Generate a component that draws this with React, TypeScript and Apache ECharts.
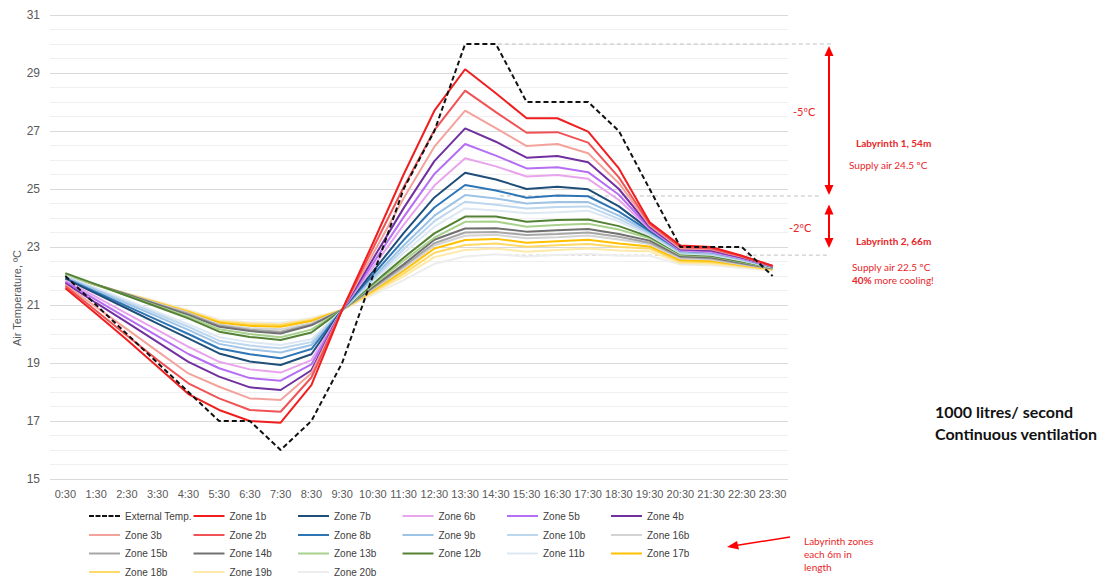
import React, { useEffect, useRef } from "react";
import * as echarts from "echarts";

const categories = ["0:30","1:30","2:30","3:30","4:30","5:30","6:30","7:30","8:30","9:30","10:30","11:30","12:30","13:30","14:30","15:30","16:30","17:30","18:30","19:30","20:30","21:30","22:30","23:30"];
const yTicks = [15, 31, 2];

const external = [22,21,20,19,18,17,17,16,17,19,22,25,27,30,30,28,28,28,27,25,23,23,23,22];
const zone1b = [21.58,20.7,19.8,18.87,17.93,17.38,17.0,16.94,18.24,20.83,23.13,25.5,27.7,29.13,28.3,27.44,27.44,26.98,25.71,23.85,23.05,23.0,22.7,22.35];
const zone2b = [21.65,20.8,19.95,19.1,18.3,17.78,17.38,17.32,18.5,20.83,22.95,25.06,27.03,28.39,27.65,26.94,26.96,26.6,25.4,23.8,23.0,22.95,22.68,22.35];
const zone3b = [21.7,20.93,20.17,19.4,18.64,18.18,17.78,17.72,18.65,20.83,22.75,24.68,26.46,27.7,27.1,26.48,26.55,26.23,25.2,23.75,22.95,22.92,22.66,22.35];
const zone4b = [21.75,21.07,20.4,19.72,19.04,18.53,18.16,18.07,18.75,20.83,22.58,24.34,25.96,27.09,26.63,26.08,26.14,25.92,25.0,23.7,22.92,22.88,22.64,22.35];
const zone5b = [21.8,21.18,20.55,19.93,19.31,18.82,18.48,18.39,18.95,20.83,22.43,24.03,25.52,26.55,26.15,25.71,25.75,25.58,24.8,23.65,22.9,22.85,22.62,22.34];
const zone6b = [21.85,21.28,20.7,20.13,19.56,19.04,18.78,18.67,19.1,20.83,22.3,23.76,25.12,26.06,25.78,25.43,25.48,25.35,24.62,23.62,22.88,22.83,22.6,22.33];
const zone7b = [21.9,21.39,20.88,20.36,19.85,19.33,19.05,18.93,19.3,20.83,22.15,23.48,24.71,25.56,25.33,25.0,25.08,24.99,24.4,23.6,22.9,22.85,22.62,22.32];
const zone8b = [21.92,21.44,20.96,20.48,20.0,19.5,19.3,19.16,19.48,20.83,22.04,23.24,24.36,25.14,24.95,24.7,24.78,24.75,24.22,23.55,22.87,22.82,22.6,22.32];
const zone9b = [21.95,21.5,21.05,20.6,20.14,19.66,19.47,19.36,19.62,20.83,21.94,23.05,24.08,24.79,24.67,24.5,24.55,24.55,24.08,23.5,22.82,22.78,22.57,22.31];
const zone10b = [21.97,21.54,21.11,20.68,20.25,19.77,19.6,19.51,19.72,20.83,21.87,22.92,23.89,24.56,24.46,24.33,24.38,24.4,23.97,23.45,22.8,22.75,22.55,22.3];
const zone11b = [22.0,21.58,21.17,20.75,20.34,19.89,19.72,19.62,19.82,20.83,21.81,22.79,23.7,24.33,24.26,24.16,24.2,24.25,23.88,23.4,22.78,22.73,22.53,22.3];
const zone12b = [22.1,21.71,21.32,20.93,20.54,20.08,19.9,19.79,20.05,20.83,21.73,22.63,23.47,24.05,24.05,23.87,23.93,23.95,23.72,23.35,22.75,22.7,22.5,22.3];
const zone13b = [22.05,21.69,21.33,20.96,20.6,20.16,20.0,19.89,20.15,20.83,21.68,22.53,23.32,23.87,23.88,23.7,23.76,23.8,23.6,23.3,22.72,22.68,22.48,22.28];
const zone14b = [22.05,21.7,21.36,21.01,20.66,20.25,20.1,20.02,20.3,20.83,21.62,22.4,23.25,23.64,23.65,23.53,23.58,23.62,23.45,23.22,22.68,22.64,22.45,22.27];
const zone15b = [22.03,21.7,21.37,21.03,20.7,20.29,20.15,20.08,20.33,20.83,21.58,22.33,23.13,23.5,23.52,23.41,23.45,23.5,23.35,23.15,22.65,22.6,22.42,22.26];
const zone16b = [22.02,21.7,21.38,21.05,20.73,20.33,20.2,20.16,20.37,20.83,21.55,22.26,23.05,23.39,23.42,23.3,23.34,23.4,23.26,23.1,22.6,22.57,22.4,22.25];
const zone17b = [22.0,21.69,21.38,21.07,20.76,20.39,20.28,20.25,20.45,20.83,21.5,22.18,22.95,23.24,23.28,23.15,23.2,23.25,23.12,23.02,22.55,22.52,22.38,22.24];
const zone18b = [22.0,21.7,21.39,21.09,20.78,20.43,20.33,20.31,20.48,20.83,21.46,22.08,22.8,23.07,23.12,23.01,23.06,23.1,23.0,22.95,22.5,22.47,22.35,22.22];
const zone19b = [21.98,21.69,21.39,21.1,20.8,20.46,20.37,20.34,20.52,20.83,21.41,21.99,22.65,22.9,22.95,22.84,22.9,22.95,22.88,22.85,22.45,22.42,22.32,22.2];
const zone20b = [21.97,21.69,21.4,21.12,20.83,20.5,20.4,20.39,20.55,20.83,21.35,21.86,22.42,22.67,22.75,22.67,22.72,22.76,22.7,22.7,22.4,22.37,22.28,22.18];

const zoneSeries: [string, number[], string][] = [
  ["Zone 1b", zone1b, "#f01e1e"],
  ["Zone 2b", zone2b, "#ef5355"],
  ["Zone 3b", zone3b, "#f4a29c"],
  ["Zone 4b", zone4b, "#7030a0"],
  ["Zone 5b", zone5b, "#b66ef2"],
  ["Zone 6b", zone6b, "#e8a4ec"],
  ["Zone 7b", zone7b, "#1f4e79"],
  ["Zone 8b", zone8b, "#2e75b6"],
  ["Zone 9b", zone9b, "#9dc3e6"],
  ["Zone 10b", zone10b, "#bdd7ee"],
  ["Zone 11b", zone11b, "#dde8f3"],
  ["Zone 12b", zone12b, "#548235"],
  ["Zone 13b", zone13b, "#a9d18e"],
  ["Zone 14b", zone14b, "#707070"],
  ["Zone 15b", zone15b, "#a6a6a6"],
  ["Zone 16b", zone16b, "#d3d3d3"],
  ["Zone 17b", zone17b, "#ffc000"],
  ["Zone 18b", zone18b, "#ffd966"],
  ["Zone 19b", zone19b, "#ffe9a8"],
  ["Zone 20b", zone20b, "#ededed"],
];

const legendOrder = [
  "External Temp.", "Zone 1b", "Zone 7b", "Zone 6b", "Zone 5b", "Zone 4b",
  "Zone 3b", "Zone 2b", "Zone 8b", "Zone 9b", "Zone 10b", "Zone 16b",
  "Zone 15b", "Zone 14b", "Zone 13b", "Zone 12b", "Zone 11b", "Zone 17b",
  "Zone 18b", "Zone 19b", "Zone 20b",
];

const RED = "#ff0000";
const TXT_RED = "#e8262a";
const DASH_ICON = "path://M0,0h5v2h-5zM6.5,0h5v2h-5zM13,0h5v2h-5zM19.5,0h5v2h-5zM26,0h5v2h-5z";

export default function App() {
  const ref = useRef<HTMLDivElement>(null);
  useEffect(() => {
    if (!ref.current) return;
    const chart = echarts.init(ref.current, null, { renderer: "svg" });
    const series: any[] = [];
    for (let i = zoneSeries.length - 1; i >= 0; i--) {
      const [name, data, color] = zoneSeries[i];
      series.push({
        name, type: "line", data, symbol: "none", color,
        lineStyle: { width: 2, color }, z: 2 + (zoneSeries.length - i) * 0.01,
      });
    }
    series.push({
      name: "External Temp.", type: "line", data: external, symbol: "none", color: "#111",
      lineStyle: { width: 2, color: "#111", type: [5, 3] }, z: 3,
    });
    const colX = [89, 193.5, 298, 402.5, 507, 611];
    const rowY = [517, 536, 554.5, 573];
    const legends = legendOrder.map((name, i) => ({
      data: [{ name, icon: name === "External Temp." ? DASH_ICON : "rect" }],
      left: colX[i % 6], top: rowY[Math.floor(i / 6)] - 6,
      itemWidth: 31, itemHeight: 2, itemGap: 0, padding: 0, selectedMode: false,
      itemStyle: { borderWidth: 0 },
      textStyle: { fontSize: 10, color: "#404040", fontFamily: "Liberation Sans" },
    }));
    chart.setOption({
      animation: false,
      backgroundColor: "#ffffff",
      textStyle: { fontFamily: "Liberation Sans" },
      grid: { left: 50, right: 324, top: 15, bottom: 101 },
      legend: legends,
      xAxis: {
        type: "category", data: categories, boundaryGap: true,
        axisLine: { show: false }, axisTick: { show: false },
        axisLabel: { color: "#595959", fontSize: 11, margin: 9, interval: 0 },
      },
      yAxis: {
        type: "value", min: yTicks[0], max: yTicks[1], interval: yTicks[2],
        axisLine: { show: false }, axisTick: { show: false },
        axisLabel: { color: "#595959", fontSize: 12, margin: 10 },
        splitLine: { lineStyle: { color: "#d9d9d9", width: 1 } },
        minorTick: { show: false, splitNumber: 4 },
        minorSplitLine: { show: true, lineStyle: { color: "#efefef", width: 1 } },
      },
      series,
    });

    const p = (cat: string, v: number) => chart.convertToPixel({ gridIndex: 0 }, [cat, v]) as number[];
    const y30 = p("14:30", 30);
    const y248 = p("14:30", 24.76);
    const y227 = p("14:30", 22.72);
    const yA2t = p("14:30", 24.5)[1];
    const yA2b = p("14:30", 23.0)[1];
    const ax = 829;
    const arrowHead = (x: number, tip: number, dir: number) => ({
      type: "polygon",
      shape: { points: [[x, tip], [x - 4.5, tip - dir * 10], [x + 4.5, tip - dir * 10]] },
      style: { fill: RED },
    });
    const gline = (x1: number, y1: number, x2: number, y2: number, stroke: string, w: number, dash?: number[]) => ({
      type: "line", shape: { x1, y1, x2, y2 },
      style: { stroke, lineWidth: w, lineDash: dash },
    });
    const txt = (x: number, y: number, text: string, size: number, bold: boolean, color: string, extra: any = {}) => ({
      type: "text", x, y,
      style: {
        text, fontSize: size, fontWeight: bold ? "bold" : "normal", fill: color,
        fontFamily: "Lato", verticalAlign: "middle", ...extra,
      },
    });
    chart.setOption({
      graphic: [
        gline(y30[0] + 2, y30[1], 833, y30[1], "#c0c0c0", 1, [4, 3]),
        gline(y248[0] + 4, y248[1], 820, y248[1], "#c0c0c0", 1, [4, 3]),
        gline(y227[0] + 12, y227[1], 830, y227[1], "#c0c0c0", 1, [4, 3]),
        gline(ax, y30[1] + 8, ax, y248[1] - 8, RED, 2),
        arrowHead(ax, y30[1] + 2, -1),
        arrowHead(ax, y248[1] - 1, 1),
        gline(ax, yA2t + 8, ax, yA2b - 8, RED, 2),
        arrowHead(ax, yA2t + 1, -1),
        arrowHead(ax, yA2b + 1, 1),
        txt(793, 111, "-5ºC", 11, false, TXT_RED),
        txt(789, 227, "-2ºC", 11, false, TXT_RED),
        txt(856, 143, "Labyrinth 1, 54m", 10, true, TXT_RED),
        txt(849, 165, "Supply air 24.5 ºC", 10, false, TXT_RED),
        txt(856, 241, "Labyrinth 2, 66m", 10, true, TXT_RED),
        txt(852, 267, "Supply air 22.5 ºC", 10, false, TXT_RED),
        {
          type: "text", x: 852, y: 280,
          style: {
            text: "{b|40%} more cooling!", fontSize: 10, fill: TXT_RED, fontFamily: "Lato",
            verticalAlign: "middle",
            rich: { b: { fontWeight: "bold", fontSize: 10, fill: TXT_RED, fontFamily: "Lato" } },
          },
        },
        txt(935, 411, "1000 litres/ second", 16, true, "#111"),
        txt(935, 433, "Continuous ventilation", 16, true, "#111"),
        txt(804, 541, "Labyrinth zones", 10, false, TXT_RED),
        txt(804, 554, "each 6m in", 10, false, TXT_RED),
        txt(804, 567, "length", 10, false, TXT_RED),
        gline(790, 537, 736, 545.5, RED, 1.5),
        {
          type: "polygon",
          shape: { points: [[727, 547], [737, 541], [739, 549.5]] },
          style: { fill: RED },
        },
        {
          type: "text", x: 17, y: 298, rotation: Math.PI / 2,
          style: {
            text: "Air Temperature, ºC", fontSize: 11, fill: "#595959",
            fontFamily: "Liberation Sans", align: "center", verticalAlign: "middle",
          },
        },
      ],
    });
    return () => chart.dispose();
  }, []);
  return <div ref={ref} style={{ position: "fixed", left: 0, top: 0, width: 1112, height: 580 }} />;
}
